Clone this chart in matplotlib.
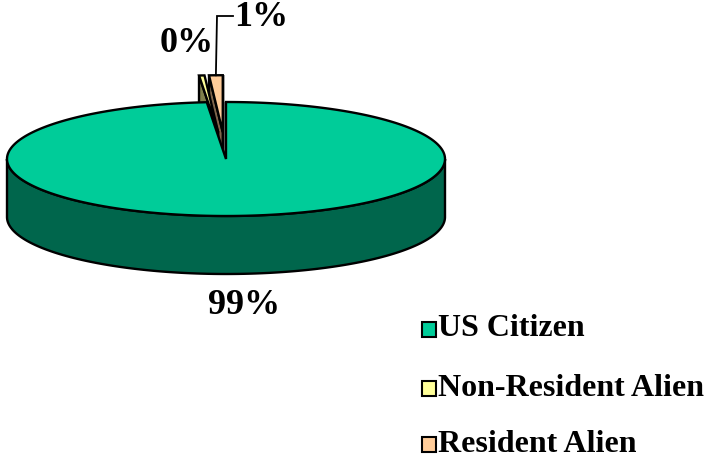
import numpy as np
import matplotlib
matplotlib.use("Agg")
import matplotlib.pyplot as plt
from matplotlib.patches import Polygon, Rectangle

# ---- data ----
categories = ["US Citizen", "Non-Resident Alien", "Resident Alien"]
values = [98.6, 0.4, 1.0]
top_colors = ["#00CC99", "#FFFF99", "#FFCC99"]
side_colors = ["#00664C", "#80804C", "#80664C"]
explode = [0.0, 0.47, 0.47]

# ---- layout (pixel space) ----
W, H = 707, 457
cx, cy, ra, rb, depth = 226, 159, 219, 57, 58
label_pos = [(244, 306), (187, 44), (261, 17)]
label_size = 26
legend_rows = [329, 388, 444]
legend_size = 23

fig = plt.figure(figsize=(W / 100, H / 100), dpi=100)
ax = fig.add_axes([0, 0, 1, 1])
ax.set_xlim(0, W)
ax.set_ylim(H, 0)
ax.axis("off")

EDGE = dict(edgecolor="black", linewidth=1.7, joinstyle="miter")


def pt(t, dx, dy, z=0.0, r=1.0):
    tr = np.radians(t)
    return cx + dx + r * ra * np.cos(tr), cy + dy - r * rb * np.sin(tr) + z


total = float(sum(values))
slices = []
cum = 0.0
for i, v in enumerate(values):
    t2 = 90 - 360 * cum / total
    cum += v
    t1 = 90 - 360 * cum / total
    mid = 0.5 * (t1 + t2)
    dx = explode[i] * ra * np.cos(np.radians(mid))
    dy = -explode[i] * rb * np.sin(np.radians(mid))
    slices.append((i, t1, t2, mid, dx, dy))

# painter's order: farther (back) slices first
slices.sort(key=lambda s: -np.sin(np.radians(s[3])))

for i, t1, t2, mid, dx, dy in slices:
    sc, tc = side_colors[i], top_colors[i]
    # radial faces
    for t, vis in ((t1, np.cos(np.radians(t1)) > 1e-9), (t2, np.cos(np.radians(t2)) < -1e-9)):
        if vis or abs(np.cos(np.radians(t))) <= 1e-9:
            ax0 = (cx + dx, cy + dy)
            rx, ry = pt(t, dx, dy)
            poly = [ax0, (rx, ry), (rx, ry + depth), (ax0[0], ax0[1] + depth)]
            ax.add_patch(Polygon(poly, closed=True, facecolor=sc, **EDGE))
    # outer wall (front-facing part)
    for k in range(-2, 3):
        lo = max(t1, 180 + 360 * k)
        hi = min(t2, 360 + 360 * k)
        if hi > lo:
            ts = np.linspace(lo, hi, 200)
            xs, ys = pt(ts, dx, dy)
            poly = np.column_stack([np.r_[xs, xs[::-1]], np.r_[ys, ys[::-1] + depth]])
            ax.add_patch(Polygon(poly, closed=True, facecolor=sc, **EDGE))
    # top face
    ts = np.linspace(t1, t2, max(3, int((t2 - t1) * 2)))
    xs, ys = pt(ts, dx, dy)
    poly = np.vstack([[cx + dx, cy + dy], np.column_stack([xs, ys])])
    ax.add_patch(Polygon(poly, closed=True, facecolor=tc, **EDGE))

# ---- data labels ----
font = dict(family="Liberation Serif", fontweight="bold", color="black")
for (i, t1, t2, mid, dx, dy) in sorted(slices):
    lx, ly = label_pos[i]
    ax.text(lx, ly, f"{int(round(values[i]))}%", ha="center", va="center",
            fontsize=label_size, **font)

# leader line for the small "Resident Alien" label
i, t1, t2, mid, dx, dy = [s for s in slices if s[0] == 2][0]
ex, ey = pt(mid, dx, dy)
lx, ly = label_pos[2]
ax.plot([lx - 28, lx - 44, ex], [ly - 1, ly - 1, ey], color="black", lw=1.3,
        solid_joinstyle="miter")

# ---- legend ----
for i, name in enumerate(categories):
    yc = legend_rows[i]
    ax.add_patch(Rectangle((422, yc - 7.5), 14, 15, facecolor=top_colors[i],
                           edgecolor="black", linewidth=1.5))
    ax.text(438, yc, name, ha="left", va="center", fontsize=legend_size, **font)

fig.savefig("out.png", dpi=100)
